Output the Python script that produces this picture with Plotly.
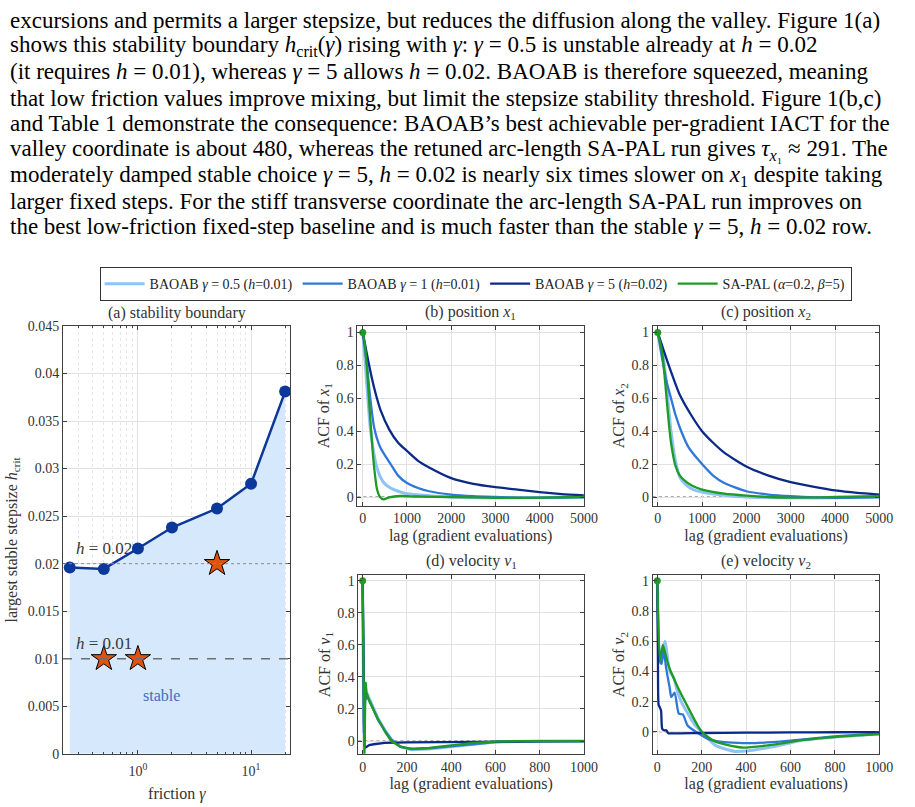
import math
import plotly.graph_objects as go

W, H = 915, 807
FONT = "Liberation Serif"

# ---------------- paragraph text ----------------
para_lines = [
    "excursions and permits a larger stepsize, but reduces the diffusion along the valley. Figure 1(a)",
    "shows this stability boundary <i>h</i><sub>crit</sub>(<i>γ</i>) rising with <i>γ</i>: <i>γ</i> = 0.5 is unstable already at <i>h</i> = 0.02",
    "(it requires <i>h</i> = 0.01), whereas <i>γ</i> = 5 allows <i>h</i> = 0.02. BAOAB is therefore squeezed, meaning",
    "that low friction values improve mixing, but limit the stepsize stability threshold. Figure 1(b,c)",
    "and Table 1 demonstrate the consequence: BAOAB’s best achievable per-gradient IACT for the",
    "valley coordinate is about 480, whereas the retuned arc-length SA-PAL run gives <i>τ</i><sub><i>x</i>₁</sub> ≈ 291. The",
    "moderately damped stable choice <i>γ</i> = 5, <i>h</i> = 0.02 is nearly six times slower on <i>x</i><sub>1</sub> despite taking",
    "larger fixed steps. For the stiff transverse coordinate the arc-length SA-PAL run improves on",
    "the best low-friction fixed-step baseline and is much faster than the stable <i>γ</i> = 5, <i>h</i> = 0.02 row.",
]
para_y = [14, 40, 66, 93, 119, 146, 172, 198, 224]

# ---------------- panel (a) data ----------------
gamma = [0.25, 0.5, 1, 2, 5, 10, 20]
h_crit = [0.0196, 0.01945, 0.0216, 0.0238, 0.0258, 0.0284, 0.0381]
run_gamma = [0.5, 1, 5]
run_h = [0.01, 0.01, 0.02]
h_levels = [0.02, 0.01]
a_yticks = [0, 0.005, 0.01, 0.015, 0.02, 0.025, 0.03, 0.035, 0.04, 0.045]
a_yticklabels = ["0", "0.005", "0.01", "0.015", "0.02", "0.025", "0.03", "0.035", "0.04", "0.045"]
a_minor = [0.3, 0.4, 0.5, 0.6, 0.7, 0.8, 0.9, 2, 3, 4, 5, 6, 7, 8, 9, 20]

# ---------------- ACF data ----------------
# (b) position x1
b_light_lag = [0, 60, 120, 170, 230, 300, 400, 500, 630, 800, 1000, 1500, 2000, 3000, 4000, 5000]
b_light_acf = [1, 0.8, 0.58, 0.42, 0.3, 0.2, 0.12, 0.08, 0.055, 0.035, 0.02, 0.008, 0.0, -0.005, -0.003, 0.0]
b_med_lag = [0, 100, 170, 260, 400, 630, 800, 1000, 1250, 1500, 2000, 2500, 3000, 3500, 4000, 4500, 5000]
b_med_acf = [1, 0.79, 0.6, 0.42, 0.3, 0.2, 0.13, 0.085, 0.055, 0.035, 0.015, 0.005, 0.0, -0.004, -0.005, -0.003, 0.0]
b_navy_lag = [0, 100, 200, 300, 400, 600, 800, 1000, 1250, 1500, 2000, 2500, 3000, 3500, 4000, 4500, 5000]
b_navy_acf = [1, 0.86, 0.73, 0.62, 0.53, 0.41, 0.33, 0.28, 0.22, 0.18, 0.115, 0.08, 0.06, 0.045, 0.03, 0.018, 0.01]
b_green_lag = [0, 50, 90, 140, 190, 250, 320, 390, 470, 600, 850, 1200, 2000, 3000, 4000, 5000]
b_green_acf = [1, 0.92, 0.8, 0.6, 0.4, 0.2, 0.05, 0.0, -0.015, -0.002, 0.006, 0.003, 0.0, -0.005, -0.004, 0.0]

# (c) position x2
c_light_lag = [0, 100, 150, 200, 250, 300, 400, 500, 650, 800, 1000, 1500, 2000, 3000, 4000, 5000]
c_light_acf = [1, 0.9, 0.8, 0.68, 0.53, 0.4, 0.22, 0.12, 0.07, 0.045, 0.03, 0.01, 0.0, -0.005, -0.005, 0.0]
c_med_lag = [0, 100, 200, 300, 400, 530, 700, 1000, 1250, 1500, 2000, 2500, 3000, 4000, 5000]
c_med_acf = [1, 0.84, 0.7, 0.6, 0.5, 0.4, 0.3, 0.2, 0.13, 0.085, 0.035, 0.015, 0.005, -0.005, 0.0]
c_navy_lag = [0, 250, 500, 750, 1000, 1250, 1500, 2000, 2500, 3000, 3500, 4000, 4500, 5000]
c_navy_acf = [1, 0.8, 0.62, 0.5, 0.4, 0.33, 0.27, 0.185, 0.13, 0.09, 0.063, 0.04, 0.025, 0.015]
c_green_lag = [0, 100, 150, 200, 250, 300, 400, 500, 650, 800, 1000, 1500, 2000, 2500, 3000, 4000, 5000]
c_green_acf = [1, 0.88, 0.75, 0.6, 0.45, 0.33, 0.19, 0.13, 0.09, 0.065, 0.045, 0.02, 0.008, 0.0, -0.004, 0.0, 0.005]

# (d) velocity v1
d_light_lag = [0, 5, 10, 20, 35, 50, 70, 100, 130, 170, 220, 300, 400, 500, 600, 800, 1000]
d_light_acf = [1, 0.1, 0.28, 0.3, 0.25, 0.2, 0.14, 0.07, 0.01, -0.035, -0.055, -0.05, -0.035, -0.018, -0.006, 0.0, 0.0]
d_med_lag = [0, 5, 10, 20, 35, 50, 70, 100, 130, 170, 220, 300, 400, 500, 600, 800, 1000]
d_med_acf = [1, 0.05, 0.25, 0.28, 0.24, 0.19, 0.13, 0.065, 0.008, -0.035, -0.05, -0.046, -0.032, -0.016, -0.006, 0.0, 0.0]
d_navy_lag = [0, 3, 6, 9, 14, 20, 30, 50, 100, 200, 400, 600, 1000]
d_navy_acf = [1, 0.5, 0.1, -0.03, -0.04, -0.035, -0.025, -0.02, -0.012, -0.008, -0.005, -0.003, 0.0]
d_green_lag = [0, 4, 8, 13, 18, 30, 50, 70, 85, 105, 130, 150, 170, 200, 230, 300, 400, 500, 600, 700, 1000]
d_green_acf = [1, 0.2, -0.1, 0.37, 0.3, 0.25, 0.19, 0.135, 0.1, 0.05, 0.0, -0.02, -0.035, -0.044, -0.048, -0.043, -0.027, -0.012, -0.004, 0.0, 0.0]

# (e) velocity v2
e_light_lag = [0, 6, 12, 20, 34, 56, 74, 90, 108, 130, 167, 200, 262, 351, 410, 513, 660, 800, 1000]
e_light_acf = [1, 0.6, 0.46, 0.5, 0.6, 0.4, 0.36, 0.27, 0.2, 0.14, 0.05, 0.0, -0.09, -0.13, -0.126, -0.1, -0.055, -0.035, -0.015]
e_med_lag = [0, 6, 12, 20, 28, 40, 56, 63, 78, 97, 115, 137, 174, 233, 292, 440, 587, 800, 1000]
e_med_acf = [1, 0.6, 0.47, 0.45, 0.55, 0.42, 0.29, 0.23, 0.26, 0.12, 0.115, 0.04, 0.0, -0.05, -0.067, -0.075, -0.06, -0.03, -0.012]
e_navy_lag = [0, 3, 6, 12, 17, 22, 30, 40, 50, 70, 100, 200, 400, 600, 800, 1000]
e_navy_acf = [1, 0.45, 0.18, 0.16, 0.14, 0.02, 0.01, 0.01, -0.01, -0.01, -0.01, -0.008, -0.006, -0.004, -0.003, -0.002]
e_green_lag = [0, 12, 25, 49, 86, 125, 200, 262, 380, 513, 660, 808, 1000]
e_green_acf = [1, 0.47, 0.576, 0.445, 0.315, 0.2, 0.0, -0.065, -0.104, -0.087, -0.054, -0.033, -0.015]

series_names = [
    "BAOAB <i>γ</i> = 0.5 (<i>h</i>=0.01)",
    "BAOAB <i>γ</i> = 1 (<i>h</i>=0.01)",
    "BAOAB <i>γ</i> = 5 (<i>h</i>=0.02)",
    "SA-PAL (<i>α</i>=0.2, <i>β</i>=5)",
]
series_colors = ["#8ec3f4", "#2f78d8", "#0b2a88", "#1f9a25"]
series_widths = [3.0, 2.3, 2.3, 2.3]

panels = [
    ("b", [(b_light_lag, b_light_acf), (b_med_lag, b_med_acf), (b_navy_lag, b_navy_acf), (b_green_lag, b_green_acf)]),
    ("c", [(c_light_lag, c_light_acf), (c_med_lag, c_med_acf), (c_navy_lag, c_navy_acf), (c_green_lag, c_green_acf)]),
    ("d", [(d_light_lag, d_light_acf), (d_med_lag, d_med_acf), (d_navy_lag, d_navy_acf), (d_green_lag, d_green_acf)]),
    ("e", [(e_light_lag, e_light_acf), (e_med_lag, e_med_acf), (e_navy_lag, e_navy_acf), (e_green_lag, e_green_acf)]),
]
panel_titles = {
    "a": "(a) stability boundary",
    "b": "(b) position <i>x</i><sub>1</sub>",
    "c": "(c) position <i>x</i><sub>2</sub>",
    "d": "(d) velocity <i>v</i><sub>1</sub>",
    "e": "(e) velocity <i>v</i><sub>2</sub>",
}
panel_ytitles = {
    "b": "ACF of <i>x</i><sub>1</sub>",
    "c": "ACF of <i>x</i><sub>2</sub>",
    "d": "ACF of <i>v</i><sub>1</sub>",
    "e": "ACF of <i>v</i><sub>2</sub>",
}
acf_yticks = [0, 0.2, 0.4, 0.6, 0.8, 1]
acf_yticklabels = ["0", "0.2", "0.4", "0.6", "0.8", "1"]
pos_xticks = [0, 1000, 2000, 3000, 4000, 5000]
vel_xticks = [0, 200, 400, 600, 800, 1000]

# ---------------- layout geometry (pixels) ----------------
boxes = {
    "a": (64, 295, 325, 761),
    "b": (363, 593, 325, 508),
    "c": (663, 893, 325, 508),
    "d": (364, 593, 579, 761),
    "e": (663, 893, 579, 761),
}
axis_idx = {"a": "", "b": "2", "c": "3", "d": "4", "e": "5"}
xranges = {"a": [math.log10(0.218), math.log10(22.3)], "b": [-120, 5000], "c": [-110, 5000],
           "d": [-19, 1000], "e": [-20, 1000]}
yranges = {"a": [0, 0.045], "b": [-0.052, 1.04], "c": [-0.052, 1.04],
           "d": [-0.08, 1.035], "e": [-0.146, 1.037]}
line_shapes = {"b": "spline", "c": "spline", "d": "linear", "e": "spline"}


def dom_x(p):
    return [boxes[p][0] / W, boxes[p][1] / W]


def dom_y(p):
    return [1 - boxes[p][3] / H, 1 - boxes[p][2] / H]


fig = go.Figure()

# ---- panel (a) ----
fig.add_trace(go.Scatter(
    x=gamma, y=h_crit, mode="lines+markers", fill="tozeroy", fillcolor="#d6e8fb",
    line=dict(color="#0c389a", width=2.5), marker=dict(size=12, color="#0c389a"),
    showlegend=False, xaxis="x", yaxis="y", hoverinfo="skip"))
fig.add_trace(go.Scatter(
    x=run_gamma, y=run_h, mode="markers",
    marker=dict(symbol="star", size=19, color="#e2520f", line=dict(color="black", width=1)),
    showlegend=False, xaxis="x", yaxis="y", hoverinfo="skip"))

# ---- ACF panels ----
for p, data in panels:
    ax = axis_idx[p]
    for i, (lag, acf) in enumerate(data):
        shp = line_shapes[p]
        fig.add_trace(go.Scatter(
            x=lag, y=acf, mode="lines", name=series_names[i],
            line=dict(color=series_colors[i], width=series_widths[i], shape=shp,
                      **({"smoothing": 0.6} if shp == "spline" else {})),
            legendgroup=str(i), showlegend=(p == "b"),
            xaxis="x" + ax, yaxis="y" + ax, hoverinfo="skip"))
    lag, acf = data[3]
    fig.add_trace(go.Scatter(
        x=[lag[0]], y=[acf[0]], mode="markers",
        marker=dict(size=7, color=series_colors[3]), showlegend=False,
        xaxis="x" + ax, yaxis="y" + ax, hoverinfo="skip"))

axis_common = dict(
    showline=True, linecolor="#404040", linewidth=1, mirror="ticks",
    ticks="inside", ticklen=4, tickcolor="#404040", showgrid=True, gridcolor="#e2e2e2",
    gridwidth=1, zeroline=False, tickfont=dict(family=FONT, size=14, color="#333333"),
)
title_font = dict(family=FONT, size=16, color="#333333")

layout_axes = {}
for p in ["a", "b", "c", "d", "e"]:
    ax = axis_idx[p]
    xa = dict(axis_common, domain=dom_x(p), range=xranges[p], anchor="y" + ax)
    ya = dict(axis_common, domain=dom_y(p), range=yranges[p], anchor="x" + ax)
    if p == "a":
        xa.update(type="log", tickvals=[1, 10], ticktext=["10<sup>0</sup>", "10<sup>1</sup>"],
                  ticklabelstandoff=4,
                  minor=dict(tickvals=a_minor, ticks="inside", ticklen=2, tickcolor="#404040",
                             showgrid=True, gridcolor="#e6e6e6", griddash="dot"),
                  title=dict(text="friction <i>γ</i>", font=title_font, standoff=10))
        ya.update(tickvals=a_yticks, ticktext=a_yticklabels,
                  title=dict(text="largest stable stepsize <i>h</i><sub>crit</sub>", font=title_font, standoff=6))
    else:
        xa.update(tickvals=pos_xticks if p in ("b", "c") else vel_xticks,
                  title=dict(text="lag (gradient evaluations)", font=title_font, standoff=4))
        ya.update(tickvals=acf_yticks, ticktext=acf_yticklabels,
                  title=dict(text=panel_ytitles[p], font=title_font, standoff=2))
    layout_axes["xaxis" + ax] = xa
    layout_axes["yaxis" + ax] = ya

shapes = []
# reference step-size lines in panel (a)
shapes.append(dict(type="line", xref="x domain", yref="y", x0=0, x1=1, y0=h_levels[0], y1=h_levels[0],
                   line=dict(color="#8a8a8a", width=1, dash="dot"), layer="above"))
shapes.append(dict(type="line", xref="x domain", yref="y", x0=0, x1=1, y0=h_levels[1], y1=h_levels[1],
                   line=dict(color="#6e6e6e", width=1.5, dash="dash"), layer="above"))
# zero lines in ACF panels
for p in ["b", "c", "d", "e"]:
    ax = axis_idx[p]
    shapes.append(dict(type="line", xref="x" + ax + " domain", yref="y" + ax, x0=0, x1=1, y0=0, y1=0,
                       line=dict(color="#555555", width=1, dash="dot"), layer="below"))

annotations = []
for txt, yc in zip(para_lines, para_y):
    annotations.append(dict(text=txt, xref="paper", yref="paper", x=8 / W, y=1 - yc / H,
                            xanchor="left", yanchor="middle", showarrow=False,
                            font=dict(family=FONT, size=23, color="black")))
for p, t in panel_titles.items():
    x0, x1, y0, y1 = boxes[p]
    annotations.append(dict(text=t, xref="paper", yref="paper", x=(x0 + x1) / 2 / W, y=1 - (y0 - 2) / H,
                            xanchor="center", yanchor="bottom", showarrow=False,
                            font=dict(family=FONT, size=16, color="#333333")))
annotations.append(dict(text="<i>h</i> = 0.02", xref="x", yref="y", x=math.log10(0.272), y=0.0216,
                        xanchor="left", yanchor="middle", showarrow=False,
                        font=dict(family=FONT, size=17, color="#3a3a3a")))
annotations.append(dict(text="<i>h</i> = 0.01", xref="x", yref="y", x=math.log10(0.272), y=0.0116,
                        xanchor="left", yanchor="middle", showarrow=False,
                        font=dict(family=FONT, size=17, color="#3a3a3a")))
annotations.append(dict(text="stable", xref="x", yref="y", x=math.log10(1.62), y=0.0061,
                        xanchor="center", yanchor="middle", showarrow=False,
                        font=dict(family=FONT, size=16, color="#3b6fc0")))

fig.update_layout(
    width=W, height=H, margin=dict(l=0, r=0, t=0, b=0),
    paper_bgcolor="white", plot_bgcolor="white",
    font=dict(family=FONT, color="#333333"),
    shapes=shapes, annotations=annotations,
    legend=dict(orientation="h", x=483 / W, xanchor="center", y=1 - 265 / H, yanchor="top",
                bordercolor="#333333", borderwidth=1, bgcolor="white",
                font=dict(family=FONT, size=14, color="#222222"), itemwidth=40),
    **layout_axes,
)

fig.write_html("out.html")
